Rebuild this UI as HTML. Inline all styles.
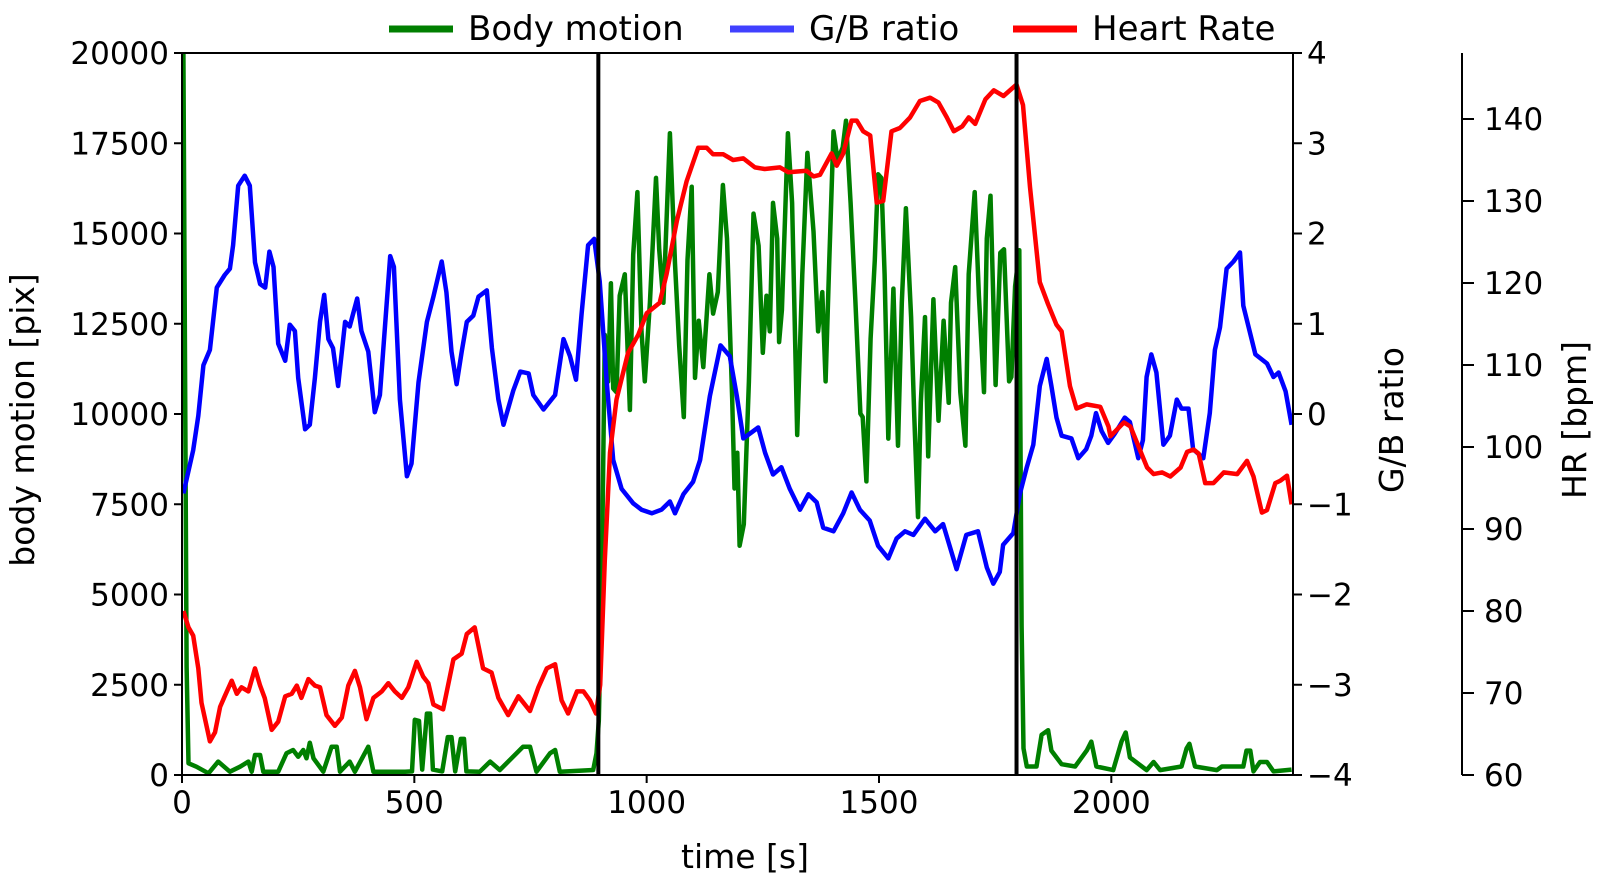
<!DOCTYPE html>
<html><head><meta charset="utf-8"><style>
html,body{margin:0;padding:0;background:#fff}
svg{display:block;font-family:"DejaVu Sans","Liberation Sans",sans-serif}
</style></head><body>
<svg id="chart" width="1599" height="883" viewBox="0 0 1599 883" xmlns="http://www.w3.org/2000/svg">
<defs><clipPath id="clip"><rect x="182" y="53" width="1111" height="722"/></clipPath></defs>
<g id="plot" clip-path="url(#clip)"></g>
<g id="axes"></g>
</svg>
<script>
// ---- data ----
const motionT=[0,3,10,14,31,57,78,103,125,143,150,157,168,175,207,225,239,250,261,268,275,283,304,322,333,340,361,372,401,412,480,495,501,510,517,527,534,540,560,572,580,588,600,607,612,641,663,684,734,749,763,792,803,813,885,892,897,903,910,917,923,928,935,942,953,964,971,980,989,996,1007,1020,1027,1036,1050,1061,1070,1080,1088,1097,1104,1112,1122,1135,1143,1153,1164,1173,1184,1189,1195,1200,1209,1220,1230,1241,1250,1258,1265,1272,1281,1285,1291,1304,1313,1324,1335,1346,1359,1369,1378,1385,1393,1402,1411,1422,1429,1439,1449,1460,1465,1473,1482,1491,1498,1505,1512,1520,1531,1541,1549,1558,1569,1576,1584,1590,1599,1606,1617,1628,1639,1650,1655,1664,1675,1686,1693,1706,1715,1726,1732,1740,1751,1761,1769,1780,1785,1793,1802,1807,1811,1818,1839,1850,1864,1871,1893,1922,1947,1957,1968,2004,2022,2031,2040,2076,2091,2105,2151,2162,2168,2180,2227,2238,2284,2291,2299,2306,2320,2335,2349,2388];
const motionV=[20000,20000,3000,323,231,46,370,92,231,370,92,554,554,92,92,600,693,508,693,462,896,462,92,785,785,92,370,92,785,92,92,100,1530,1500,150,1700,1700,150,100,1050,1050,100,1000,1000,100,92,370,138,785,785,92,600,693,92,138,600,1500,5000,12188,10902,13623,10705,10605,13277,13870,10111,14414,16146,12287,10902,13079,16541,14563,13079,17778,14167,11892,9913,14266,16294,11001,12584,11298,13870,12782,13376,16343,14859,10408,7935,8924,6352,6945,10902,15552,14662,11694,13277,12287,15849,14859,11991,12881,17778,15849,9418,13870,17234,15058,12287,13376,10902,14266,17827,17036,17382,18124,15849,13178,10012,9913,8132,12090,14266,16640,16541,13870,9319,13475,9121,13079,15700,12683,9913,7143,10309,12683,8825,13178,9814,12584,10309,13079,14068,10605,9121,13870,16146,13277,10605,14859,16047,10804,14464,14563,10902,11024,13534,14537,4125,737,236,236,1114,1240,676,300,236,676,926,236,135,926,1177,487,135,361,135,236,737,863,236,135,236,236,676,676,100,361,361,100,150];

const gbT=[3,24,35,46,60,75,92,103,110,121,135,146,157,168,179,188,197,207,222,232,243,250,265,275,286,297,306,315,325,336,351,361,377,386,401,415,426,448,456,469,484,494,509,527,541,559,569,580,591,602,613,627,638,656,667,681,692,713,728,746,756,778,803,821,835,848,860,874,887,899,914,928,946,971,989,1011,1032,1050,1061,1079,1100,1115,1136,1159,1179,1194,1208,1240,1255,1272,1290,1308,1330,1348,1366,1380,1402,1423,1441,1459,1480,1498,1520,1538,1556,1574,1599,1621,1638,1667,1688,1713,1732,1746,1760,1767,1789,1803,1818,1832,1846,1861,1871,1882,1893,1914,1929,1946,1957,1967,1979,1993,2007,2029,2040,2058,2068,2076,2086,2097,2112,2126,2141,2151,2166,2176,2198,2212,2223,2234,2248,2263,2277,2284,2310,2335,2349,2360,2375,2388];
const gbV=[-0.88,-0.40,-0.02,0.54,0.71,1.40,1.54,1.61,1.87,2.53,2.64,2.53,1.68,1.44,1.40,1.80,1.63,0.78,0.59,0.99,0.92,0.40,-0.17,-0.12,0.40,1.02,1.32,0.83,0.73,0.31,1.02,0.97,1.28,0.92,0.69,0.02,0.21,1.75,1.63,0.16,-0.69,-0.55,0.35,1.02,1.30,1.69,1.35,0.69,0.33,0.69,1.02,1.09,1.30,1.37,0.73,0.16,-0.12,0.26,0.47,0.45,0.21,0.05,0.21,0.83,0.64,0.38,1.11,1.87,1.94,1.47,0.36,-0.51,-0.83,-0.99,-1.06,-1.10,-1.06,-0.97,-1.10,-0.89,-0.75,-0.51,0.20,0.76,0.64,0.20,-0.27,-0.15,-0.43,-0.67,-0.59,-0.83,-1.06,-0.89,-0.98,-1.26,-1.30,-1.10,-0.87,-1.06,-1.18,-1.46,-1.60,-1.38,-1.30,-1.34,-1.16,-1.30,-1.22,-1.72,-1.34,-1.30,-1.70,-1.88,-1.75,-1.45,-1.32,-0.89,-0.59,-0.34,0.31,0.61,0.31,-0.04,-0.24,-0.27,-0.49,-0.39,-0.24,0.01,-0.19,-0.32,-0.22,-0.04,-0.09,-0.49,-0.29,0.41,0.66,0.46,-0.34,-0.24,0.16,0.06,0.06,-0.39,-0.49,0.01,0.71,0.96,1.61,1.69,1.79,1.2,0.66,0.56,0.41,0.46,0.25,-0.12];

const hrT=[3,14,24,35,42,60,71,82,92,107,118,128,143,157,168,178,193,207,222,236,247,257,272,286,297,311,329,344,358,372,383,397,412,430,444,458,473,487,505,519,530,541,562,584,602,613,630,648,666,681,702,724,749,767,785,803,817,831,850,864,878,891,900,910,921,935,960,982,1000,1028,1043,1065,1086,1111,1129,1143,1165,1186,1208,1233,1254,1287,1305,1344,1359,1373,1398,1409,1423,1441,1452,1466,1481,1495,1509,1527,1545,1567,1588,1610,1628,1646,1661,1679,1693,1707,1729,1747,1768,1796,1810,1825,1846,1864,1882,1893,1911,1925,1947,1976,1994,1998,2027,2041,2077,2091,2109,2127,2149,2163,2177,2188,2202,2220,2242,2271,2292,2306,2324,2335,2353,2364,2378,2388];
const hrV=[80.0,78.0,77.0,73.0,68.8,64.1,65.2,68.3,69.6,71.5,69.9,70.7,70.2,73.0,70.9,69.4,65.5,66.5,69.6,69.9,70.9,69.4,71.7,70.9,70.7,67.3,66.0,67.0,70.9,72.7,70.7,66.8,69.4,70.2,71.2,70.2,69.4,70.7,73.8,72.0,71.2,68.6,68.0,74.1,74.8,77.2,78.0,73.0,72.5,69.4,67.3,69.6,67.8,70.7,73.0,73.5,69.1,67.5,70.2,70.2,69.1,67.5,71,86.2,99.3,105.8,111.5,113.7,116.3,117.6,121.1,127.6,132.4,136.5,136.5,135.7,135.7,135.0,135.2,134.1,133.9,134.1,133.5,133.7,133.0,133.2,135.8,134.3,135.8,139.8,139.8,138.5,138.0,129.8,130.0,138.5,138.9,140.2,142.2,142.6,142.0,140.2,138.5,139.1,140.2,139.4,142.4,143.5,142.8,144.2,141.7,131.7,120.1,117.4,114.9,114.1,107.4,104.7,105.2,104.9,102.5,101.3,103.0,102.5,97.5,96.7,96.9,96.4,97.5,99.4,99.7,99.2,95.6,95.6,96.9,96.7,98.3,96.4,92.0,92.3,95.6,95.9,96.5,93.0];

const phaseT=[896,1796];
const xTicks=[0,500,1000,1500,2000];
const motionTicks=[0,2500,5000,7500,10000,12500,15000,17500,20000];
const gbTicks=[-4,-3,-2,-1,0,1,2,3,4];
const hrTicks=[60,70,80,90,100,110,120,130,140];

// ---- scales ----
const X0=182,X1=1293,Y0=775,Y1=53;
const xS=t=>X0+(t-0)/(2391-0)*(X1-X0);
const yM=v=>Y0-(v/20000)*(Y0-Y1);
const yG=v=>Y0-((v+4)/8)*(Y0-Y1);
const yH=v=>Y0-((v-60)/(148.05-60))*(Y0-Y1);

const NS='http://www.w3.org/2000/svg';
const plot=document.getElementById('plot'),axes=document.getElementById('axes');
function mk(tag,attrs,parent){const e=document.createElementNS(NS,tag);for(const k in attrs)e.setAttribute(k,attrs[k]);parent.appendChild(e);return e;}
function series(ts,vs,ys,color,name){
  const d=ts.map((t,i)=>(i?'L':'M')+xS(t).toFixed(1)+','+ys(vs[i]).toFixed(1)).join('');
  const p=mk('path',{d:d,fill:'none',stroke:color,'stroke-width':4.5,'stroke-linejoin':'round'},plot);
  
  
}
series(motionT,motionV,yM,'#007f00','body-motion-line');
series(gbT,gbV,yG,'#0000ff','gb-ratio-line');
series(hrT,hrV,yH,'#ff0000','heart-rate-line');
phaseT.forEach(t=>{
  const l=mk('line',{x1:xS(t),x2:xS(t),y1:Y1,y2:Y0,stroke:'#000','stroke-width':4},plot);
  
  
});
const fr=mk('rect',{x:X0,y:Y1,width:X1-X0,height:Y0-Y1,fill:'none',stroke:'#000','stroke-width':2},axes);


function txt(s,attrs,name){const e=mk('text',Object.assign({'font-size':31,fill:'#000'},attrs),axes);e.textContent=s;
  
  
  return e;}
const fmt=v=>(v<0?'\u2212'+(-v):''+v);
xTicks.forEach(v=>{mk('line',{x1:xS(v),x2:xS(v),y1:Y0,y2:Y0+8,stroke:'#000','stroke-width':2},axes);
  txt(fmt(v),{x:xS(v),y:813,'text-anchor':'middle'},'x-tick-label');});
motionTicks.forEach(v=>{mk('line',{x1:X0-8,x2:X0,y1:yM(v),y2:yM(v),stroke:'#000','stroke-width':2},axes);
  txt(''+v,{x:X0-13,y:yM(v)+11,'text-anchor':'end'},'left-tick-label');});
gbTicks.forEach(v=>{mk('line',{x1:X1,x2:X1+9,y1:yG(v),y2:yG(v),stroke:'#000','stroke-width':2},axes);
  txt(fmt(v),{x:X1+14,y:yG(v)+11,'text-anchor':'start'},'gb-tick-label');});
const HX=1462;
mk('line',{x1:HX,x2:HX,y1:Y1,y2:Y0,stroke:'#000','stroke-width':2},axes);
hrTicks.forEach(v=>{mk('line',{x1:HX,x2:HX+12,y1:yH(v),y2:yH(v),stroke:'#000','stroke-width':2},axes);
  txt(''+v,{x:HX+22,y:yH(v)+11,'text-anchor':'start'},'hr-tick-label');});
txt('time [s]',{x:745,y:868,'text-anchor':'middle','font-size':33},'x-axis-title');
txt('body motion [pix]',{x:0,y:0,'text-anchor':'middle','font-size':33,transform:'translate(34,420) rotate(-90)'},'y-axis-title');
txt('G/B ratio',{x:0,y:0,'text-anchor':'middle','font-size':33,transform:'translate(1403,420) rotate(-90)'},'gb-axis-title');
txt('HR [bpm]',{x:0,y:0,'text-anchor':'middle','font-size':33,transform:'translate(1586,420) rotate(-90)'},'hr-axis-title');
const leg=[['Body motion','#007f00',389],['G/B ratio','#4040ff',730],['Heart Rate','#ff0000',1013]];
leg.forEach(l=>{
  const g=mk('line',{x1:l[2],x2:l[2]+64,y1:29,y2:29,stroke:l[1],'stroke-width':7},axes);
  
  
  txt(l[0],{x:l[2]+79,y:40,'font-size':34},'legend-entry');
});
</script>
</body></html>
